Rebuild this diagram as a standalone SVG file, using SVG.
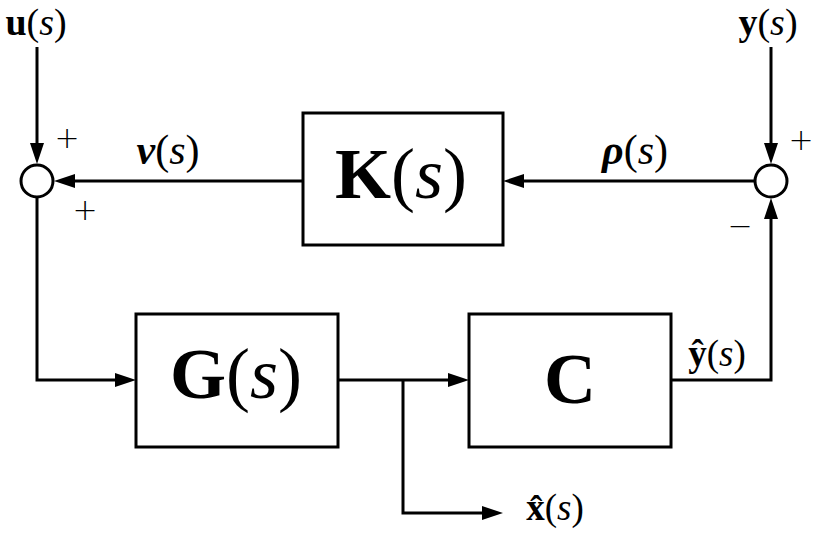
<svg xmlns="http://www.w3.org/2000/svg" width="813" height="535" viewBox="0 0 813 535">
<style>
.ln{fill:none;stroke:#000;stroke-width:3}
.box{fill:#fff;stroke:#000;stroke-width:3}
.sum{fill:#fff;stroke:#000;stroke-width:3}
text{fill:#000}
.b{font-weight:bold}
.i{font-style:italic}
.big{font-size:72px}
.lab{font-size:42px}
.top{font-size:38px}
.sm{font-size:37px}
.sign{font-size:30px;font-weight:200}
</style>
<defs>
<marker id="ar" viewBox="0 0 21 14" refX="15" refY="7" markerWidth="21" markerHeight="14" markerUnits="userSpaceOnUse" orient="auto">
<path d="M0,0 L21,7 L0,14 z" fill="#000"/>
</marker>
</defs>
<g id="connectors">
<path class="ln" d="M37,47 V158" marker-end="url(#ar)"/>
<path class="ln" d="M303,181 H60" marker-end="url(#ar)"/>
<path class="ln" d="M771,47 V158" marker-end="url(#ar)"/>
<path class="ln" d="M754,181 H509" marker-end="url(#ar)"/>
<path class="ln" d="M671,380 H771 V204" marker-end="url(#ar)"/>
<path class="ln" d="M37,197 V380 H130" marker-end="url(#ar)"/>
<path class="ln" d="M338,380 H463" marker-end="url(#ar)"/>
<path class="ln" d="M403,380 V513 H497" marker-end="url(#ar)"/>
</g>
<g id="sum1" font-family="'DejaVu Sans', 'Liberation Sans', sans-serif">
<circle class="sum" cx="37" cy="181" r="16"/>
<text class="sign" x="67" y="148" text-anchor="middle">+</text>
<text class="sign" x="85" y="220" text-anchor="middle">+</text>
</g>
<g id="sum2" font-family="'DejaVu Sans', 'Liberation Sans', sans-serif">
<circle class="sum" cx="771" cy="181" r="16"/>
<text class="sign" x="801" y="150" text-anchor="middle">+</text>
<text class="sign" x="740" y="236" text-anchor="middle">−</text>
</g>
<g id="K" font-family="'Liberation Serif', 'DejaVu Serif', serif">
<rect class="box" x="303" y="113" width="200" height="132"/>
<text class="big" x="401" y="198" text-anchor="middle"><tspan class="b">K</tspan>(<tspan class="i">s</tspan>)</text>
</g>
<g id="G" font-family="'Liberation Serif', 'DejaVu Serif', serif">
<rect class="box" x="136" y="314" width="202" height="133"/>
<text class="big" x="236" y="398" text-anchor="middle"><tspan class="b">G</tspan>(<tspan class="i">s</tspan>)</text>
</g>
<g id="C" font-family="'Liberation Serif', 'DejaVu Serif', serif">
<rect class="box" x="469" y="314" width="202" height="133"/>
<text class="big b" x="570" y="403" text-anchor="middle">C</text>
</g>
<g id="labels" font-family="'Liberation Serif', 'DejaVu Serif', serif">
<text class="top" x="36" y="35" text-anchor="middle"><tspan class="b">u</tspan>(<tspan class="i">s</tspan>)</text>
<text class="top" x="768" y="35" text-anchor="middle"><tspan class="b">y</tspan>(<tspan class="i">s</tspan>)</text>
<text class="lab" x="168" y="164" text-anchor="middle"><tspan class="b i">ν</tspan>(<tspan class="i">s</tspan>)</text>
<text class="lab" x="635" y="164" text-anchor="middle"><tspan class="b i">ρ</tspan>(<tspan class="i">s</tspan>)</text>
<text class="sm" x="717" y="366" text-anchor="middle"><tspan class="b">ŷ</tspan>(<tspan class="i">s</tspan>)</text>
<text class="sm" x="555" y="520" text-anchor="middle"><tspan class="b">x̂</tspan>(<tspan class="i">s</tspan>)</text>
</g>
</svg>
